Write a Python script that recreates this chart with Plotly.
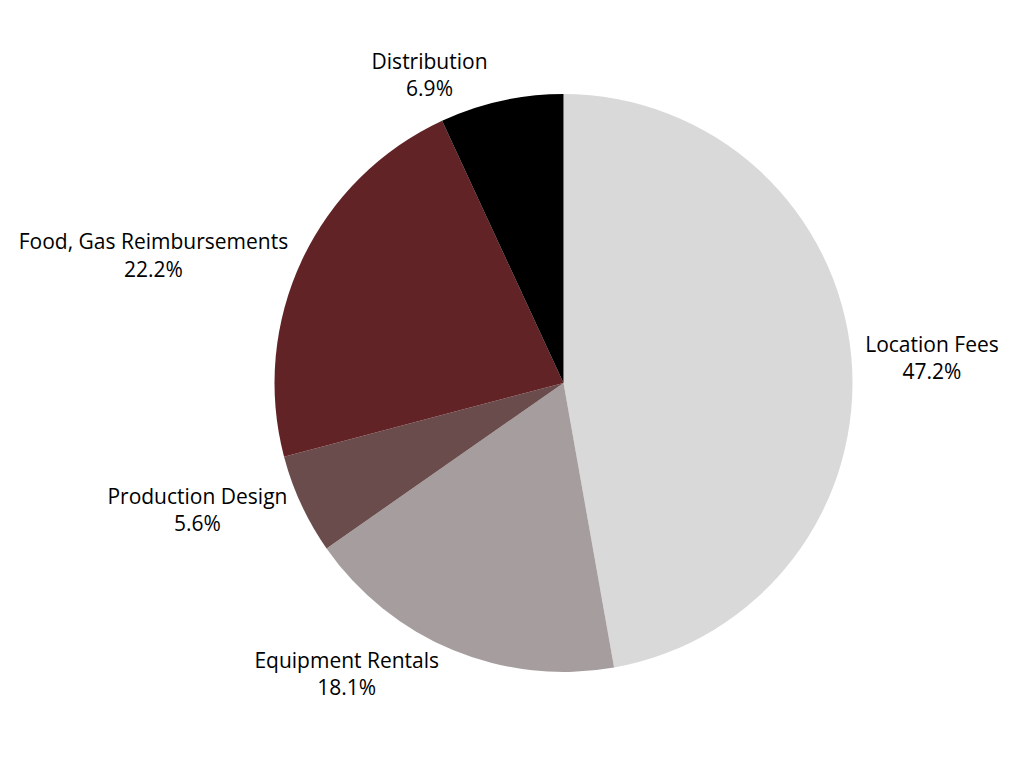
import plotly.graph_objects as go

labels = ["Location Fees", "Equipment Rentals", "Production Design",
          "Food, Gas Reimbursements", "Distribution"]
values = [47.2, 18.1, 5.6, 22.2, 6.9]
colors = ["#d9d9d9", "#a69e9e", "#6b4c4c", "#622326", "#000000"]

fig = go.Figure()

fig.add_trace(go.Pie(
    labels=labels,
    values=values,
    sort=False,
    direction="clockwise",
    rotation=0,
    marker=dict(colors=colors, line=dict(width=0)),
    texttemplate="%{label}<br>%{percent:.1%}",
    textposition="outside",
    textfont=dict(family="Open Sans", size=21, color="#000000"),
    domain=dict(x=[0.519 - 0.3, 0.519 + 0.3], y=[0, 1]),
    showlegend=False,
))

fig.update_layout(
    width=1024,
    height=768,
    margin=dict(l=0, r=0, t=86, b=104),
    paper_bgcolor="white",
    plot_bgcolor="white",
)

fig.write_html("out.html")
